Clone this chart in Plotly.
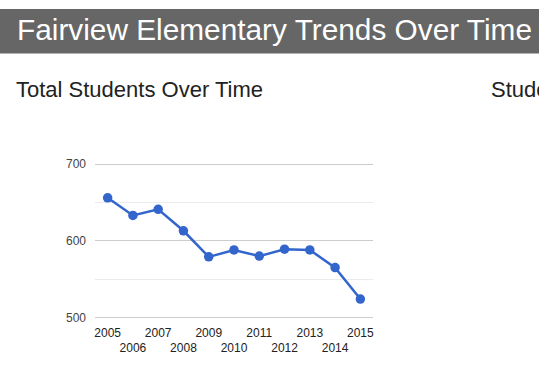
import plotly.graph_objects as go

years = [2005, 2006, 2007, 2008, 2009, 2010, 2011, 2012, 2013, 2014, 2015]
students = [656, 633, 641, 613, 579, 588, 580, 589, 588, 565, 524]
y_ticks = [500, 600, 700]
page_title = "Fairview Elementary Trends Over Time"
chart_title = "Total Students Over Time"
next_title = "Students"

W, H = 539, 388
tick_text = [str(y) if i % 2 == 0 else "<br>" + str(y) for i, y in enumerate(years)]

fig = go.Figure()
fig.add_trace(go.Scatter(
    x=years, y=students, mode="lines+markers",
    line=dict(color="#3366cc", width=2.5),
    marker=dict(color="#3366cc", size=9.5),
    hoverinfo="x+y", showlegend=False,
))

fig.update_layout(
    width=W, height=H,
    margin=dict(l=0, r=0, t=0, b=0, autoexpand=False),
    paper_bgcolor="white", plot_bgcolor="white",
    font=dict(family="Liberation Sans, Arial, sans-serif", color="#222"),
    xaxis=dict(
        domain=[95 / W, 373 / W],
        range=[years[0] - 0.5, years[-1] + 0.5],
        tickvals=years, ticktext=tick_text, tickangle=0,
        showgrid=False, zeroline=False, showline=False, ticks="",
        tickfont=dict(size=12, color="#222"),
        ticklabelstandoff=4,
        automargin=False, fixedrange=True,
    ),
    yaxis=dict(
        domain=[1 - 319.8 / H, 1 - 161.7 / H],
        range=[497, 703],
        tickvals=y_ticks,
        showgrid=True, gridcolor="#cccccc", gridwidth=1,
        zeroline=False, showline=False, ticks="",
        tickfont=dict(size=12, color="#444"),
        ticklabelstandoff=8,
        minor=dict(dtick=50, tick0=500, showgrid=True, gridcolor="#ebebeb", gridwidth=1),
        automargin=False, fixedrange=True,
    ),
    shapes=[dict(type="rect", xref="paper", yref="paper",
                 x0=0, x1=1, y0=1 - 53.5 / H, y1=1 - 9 / H,
                 fillcolor="#666666", line=dict(width=0), layer="below")],
    annotations=[
        dict(text=page_title, xref="paper", yref="paper", x=14.5 / W, y=1 - 29.5 / H,
             xanchor="left", yanchor="middle", showarrow=False,
             font=dict(size=29.8, color="white")),
        dict(text=chart_title, xref="paper", yref="paper", x=14 / W, y=1 - 89.5 / H,
             xanchor="left", yanchor="middle", showarrow=False,
             font=dict(size=22, color="#222")),
        dict(text=next_title, xref="paper", yref="paper", x=489 / W, y=1 - 89.5 / H,
             xanchor="left", yanchor="middle", showarrow=False,
             font=dict(size=22, color="#222")),
    ],
)

fig.write_html(
    "out.html",
    config={"displayModeBar": False},
    post_script="document.body.style.margin='0';document.body.style.overflow='hidden';",
)
